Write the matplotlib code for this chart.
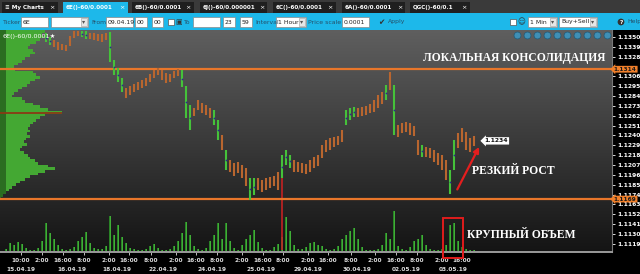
import numpy as np
import matplotlib.pyplot as plt
import matplotlib.transforms as mtransforms
from matplotlib.patches import Rectangle
from matplotlib.colors import LinearSegmentedColormap

W, H = 640, 274

# ---------------- данные: 6E (EUR), 1 Hour, бары по индексу
first_bar = 11
bar_high = [1.1354, 1.1350, 1.1347, 1.1344, 1.1342, 1.1341, 1.1351, 1.1357, 1.1357, 1.1357,
            1.1357, 1.1354, 1.1354, 1.1353, 1.1353, 1.1354, 1.1356, 1.1324, 1.1315, 1.1304,
            1.1293, 1.1295, 1.1298, 1.1300, 1.1302, 1.1304, 1.1309, 1.1313, 1.1315, 1.1313,
            1.1310, 1.1309, 1.1312, 1.1314, 1.1313, 1.1295, 1.1274, 1.1271, 1.1280, 1.1276,
            1.1274, 1.1271, 1.1268, 1.1257, 1.1241, 1.1224, 1.1213, 1.1209, 1.1210, 1.1207,
            1.1204, 1.1192, 1.1192, 1.1192, 1.1190, 1.1192, 1.1194, 1.1195, 1.1199, 1.1218,
            1.1224, 1.1218, 1.1213, 1.1210, 1.1209, 1.1208, 1.1213, 1.1216, 1.1218, 1.1229,
            1.1235, 1.1237, 1.1238, 1.1239, 1.1246, 1.1268, 1.1271, 1.1272, 1.1271, 1.1272,
            1.1273, 1.1275, 1.1280, 1.1285, 1.1289, 1.1296, 1.1311, 1.1296, 1.1252, 1.1254,
            1.1255, 1.1254, 1.1251, 1.1235, 1.1229, 1.1227, 1.1226, 1.1224, 1.1220, 1.1218,
            1.1213, 1.1201, 1.1235, 1.1243, 1.1248, 1.1244, 1.1237, 1.1239]
bar_low = [1.1344, 1.1341, 1.1339, 1.1335, 1.1335, 1.1334, 1.1340, 1.1349, 1.1351, 1.1350,
           1.1348, 1.1348, 1.1347, 1.1346, 1.1344, 1.1347, 1.1322, 1.1308, 1.1300, 1.1289,
           1.1282, 1.1285, 1.1289, 1.1291, 1.1293, 1.1295, 1.1300, 1.1304, 1.1308, 1.1302,
           1.1299, 1.1300, 1.1304, 1.1306, 1.1294, 1.1260, 1.1246, 1.1262, 1.1268, 1.1265,
           1.1263, 1.1260, 1.1252, 1.1235, 1.1224, 1.1201, 1.1199, 1.1195, 1.1198, 1.1192,
           1.1184, 1.1168, 1.1173, 1.1179, 1.1177, 1.1179, 1.1181, 1.1184, 1.1179, 1.1192,
           1.1207, 1.1204, 1.1199, 1.1199, 1.1198, 1.1197, 1.1199, 1.1204, 1.1206, 1.1215,
           1.1222, 1.1224, 1.1227, 1.1229, 1.1233, 1.1252, 1.1257, 1.1261, 1.1261, 1.1262,
           1.1263, 1.1265, 1.1266, 1.1271, 1.1275, 1.1280, 1.1291, 1.1241, 1.1238, 1.1243,
           1.1244, 1.1241, 1.1239, 1.1218, 1.1216, 1.1216, 1.1215, 1.1210, 1.1207, 1.1201,
           1.1190, 1.1175, 1.1201, 1.1226, 1.1233, 1.1224, 1.1222, 1.1228]
bar_volume = [0, 2, 8, 6, 9, 7, 3, 1, 1, 3,
              10, 28, 18, 12, 6, 2, 1, 2, 4, 10,
              14, 19, 8, 3, 2, 2, 5, 35, 16, 26,
              14, 8, 3, 2, 1, 1, 2, 5, 7, 3,
              1, 1, 2, 5, 10, 18, 29, 16, 5, 2,
              1, 3, 10, 16, 28, 12, 28, 10, 3, 1,
              6, 12, 16, 21, 9, 3, 1, 1, 4, 7,
              14, 34, 20, 6, 2, 2, 4, 8, 9, 6,
              5, 2, 1, 2, 5, 12, 16, 20, 23, 12,
              4, 1, 1, 1, 2, 6, 18, 12, 40, 5,
              2, 1, 4, 10, 12, 16, 6, 2, 1, 1,
              2, 6, 26, 28, 10, 4, 2, 1, 1]
spike_bar = 70
spike_low = 1.1112

# профиль объема по цене
vp_levels = [1.1356, 1.1353, 1.1350, 1.1347, 1.1344, 1.1341, 1.1338, 1.1335, 1.1332, 1.1329,
             1.1326, 1.1323, 1.1320, 1.1317, 1.1314, 1.1311, 1.1308, 1.1305, 1.1302, 1.1299,
             1.1296, 1.1293, 1.1290, 1.1287, 1.1284, 1.1281, 1.1278, 1.1275, 1.1272, 1.1269,
             1.1266, 1.1263, 1.1260, 1.1257, 1.1254, 1.1251, 1.1248, 1.1245, 1.1242, 1.1239,
             1.1236, 1.1233, 1.1230, 1.1227, 1.1224, 1.1221, 1.1218, 1.1215, 1.1212, 1.1209,
             1.1206, 1.1203, 1.1200, 1.1197, 1.1194, 1.1191, 1.1188, 1.1185, 1.1182, 1.1179,
             1.1176, 1.1173, 1.1170]
vp_volume = [45, 42, 44, 40, 36, 30, 28, 33, 35, 30,
             25, 22, 18, 14, 15, 33, 36, 40, 35, 30,
             27, 22, 18, 14, 12, 22, 25, 33, 40, 48,
             62, 45, 40, 36, 33, 30, 28, 30, 27, 30,
             26, 24, 27, 22, 20, 24, 28, 30, 35, 38,
             48, 55, 45, 38, 30, 25, 20, 16, 12, 9,
             6, 3, 1]
poc_price = 1.1265

level_hi = 1.1314
level_lo = 1.1169
last_price = 1.1234

price_ticks = [1.1350, 1.1339, 1.1328, 1.1317, 1.1306, 1.1295, 1.1284, 1.1273, 1.1262, 1.1251,
               1.1240, 1.1229, 1.1218, 1.1207, 1.1196, 1.1185, 1.1174, 1.1163, 1.1152, 1.1141,
               1.1130, 1.1119]
time_pos = [4.75, 10.0, 15.25, 20.5, 26.75, 31.75, 37.25, 43.5, 48.5, 53.75, 60.0,
            65.25, 70.25, 76.5, 81.5, 87.25, 93.25, 98.5, 103.75, 110.0, 115.0]
time_lab = ['10:00', '2:00', '16:00', '8:00', '2:00', '16:00', '8:00', '2:00', '16:00', '8:00',
            '2:00', '16:00', '8:00', '2:00', '16:00', '8:00', '2:00', '16:00', '8:00', '2:00',
            '16:00']
date_pos = [4.75, 17.5, 28.75, 40.25, 52.5, 64.75, 76.5, 88.75, 101.0, 112.75]
date_lab = ['15.04.19', '16.04.19', '18.04.19', '22.04.19', '24.04.19', '25.04.19',
            '29.04.19', '30.04.19', '02.05.19', '03.05.19']

tabs = [('My Charts', 2, 58), ('6E()-60/0.0001', 63, 128), ('6B()-60/0.0001', 132, 194),
        ('6J()-60/0.000001', 200, 267), ('6C()-60/0.0001', 273, 336),
        ('6A()-60/0.0001', 342, 405), ('QGC()-60/0.1', 410, 470)]

# ---------------- цвета
ORANGE = '#b9662f'
GREEN = '#45c23a'
LINE = '#e8762a'
CYAN = '#1db8ea'

y_lo, y_hi = 1.11099, 1.13578
x_lo, x_hi = -0.5, 152.5

fig = plt.figure(figsize=(W / 100, H / 100), dpi=100, facecolor='black')


def px_rect(x0, y0, x1, y1, **kw):
    fig.patches.append(Rectangle((x0 / W, 1 - y1 / H), (x1 - x0) / W, (y1 - y0) / H,
                                 transform=fig.transFigure, **kw))


def px_text(x, y, s, **kw):
    fig.text(x / W, 1 - y / H, s, **kw)


# ---------------- шапка
px_rect(0, 0, W, 13, fc='#3a3a3a', ec='none')
for name, x0, x1 in tabs:
    active = name.startswith('6E')
    px_rect(x0, 2, x1, 13, fc=CYAN if active else '#1f1f1f', ec='none')
    label = ('\u2261 ' if name == 'My Charts' else '') + name
    px_text(x0 + 3, 8, label, fontsize=4.1, color='white', fontweight='bold', va='center')
    px_text(x1 - 3, 8, '\u00d7', fontsize=4.6, color='white', ha='right', va='center')

px_rect(0, 13, W, 30, fc=CYAN, ec='none')


def box(x0, x1, s='', arrow=False):
    px_rect(x0, 17, x1, 27, fc='white', ec='#8a8a8a', lw=0.5)
    if s:
        px_text(x0 + 2, 22, s, fontsize=4.4, color='#222', va='center')
    if arrow:
        px_rect(x1 - 7, 18, x1 - 1, 26, fc='#e6e6e6', ec='#999', lw=0.4)
        px_text(x1 - 4, 22, '\u25be', fontsize=4.5, color='#555', ha='center', va='center')


for s, x in [('Ticker', 3), ('From', 91), ('To', 184), ('Interval', 255), ('Price scale', 308),
             ('Apply', 388), ('Help', 627)]:
    px_text(x, 22, s, fontsize=4.4, color='#25506a', va='center')
box(21, 48, '6E')
box(51, 88, arrow=True)
box(106, 133, '09.04.19')
box(135, 147, '00')
box(152, 163, '00')
px_rect(168, 19, 174, 25, fc='white', ec='#555', lw=0.5)
px_text(179, 22, '\u25a3', fontsize=5, color='#333', ha='center', va='center')
box(193, 220)
box(223, 235, '23')
box(240, 252, '59')
box(276, 306, '1 Hour', arrow=True)
box(342, 369, '0.0001')
px_text(381, 22, '\u2714', fontsize=5.5, color='#333', ha='center', va='center')
px_rect(510, 19, 516, 25, fc='white', ec='#555', lw=0.5)
px_text(521, 22, '\u263a', fontsize=5.5, color='#333', ha='center', va='center')
box(528, 557, '1 Min', arrow=True)
box(559, 597, 'Buy+Sell', arrow=True)
px_text(621, 22, '?', fontsize=4.2, color='white', fontweight='bold', ha='center', va='center',
        bbox=dict(boxstyle='circle,pad=0.15', fc='#333333', ec='none'))

# ---------------- панель графика
rect = [0, 22 / H, 612 / W, 222 / H]

ax_bg = fig.add_axes(rect)
bg_cmap = LinearSegmentedColormap.from_list('bg', ['#5f5f5f', '#3a3a3a', '#141414'])
ax_bg.imshow(np.linspace(0, 1, 256).reshape(-1, 1), cmap=bg_cmap, aspect='auto',
             extent=[0, 1, 0, 1])
ax_bg.axis('off')

# профиль объема слева
axp = fig.add_axes(rect)
axp.barh(vp_levels, vp_volume, height=0.0003, color='#44a833', edgecolor='none')
axp.barh(vp_levels, [min(v, 6) for v in vp_volume], height=0.0003, color='#2b6d21',
         edgecolor='none')
axp.hlines(poc_price, 0, max(vp_volume), color='#8a3a14', lw=1.3)
axp.set_xlim(0, max(vp_volume) * 612 / 62)
axp.set_ylim(y_lo, y_hi)
axp.axis('off')

# объем внизу
axv = fig.add_axes(rect)
vol_x = np.arange(len(bar_volume))
axv.bar(vol_x, bar_volume, width=0.7, color='#2a8226', edgecolor='none')
axv.bar(vol_x, bar_volume, width=0.25, color='#3fae36', edgecolor='none')
axv.set_xlim(x_lo, x_hi)
axv.set_ylim(-1, 222)
axv.axis('off')

# цена
ax = fig.add_axes(rect)
ax.set_facecolor('none')
bars = np.arange(first_bar, first_bar + len(bar_high))
colors = [GREEN if bar_volume[i] >= 14 else ORANGE for i in bars]
ax.vlines(bars, bar_low, bar_high, colors=colors, lw=1.5, zorder=3)
mid = np.array([(h + l) / 2 for h, l in zip(bar_high, bar_low)])
dark = [k for k, c in enumerate(colors) if c == GREEN]
ax.scatter(bars[dark], mid[dark], s=1.5, color='#2a2a90', zorder=4, lw=0)
ax.vlines(spike_bar, spike_low, bar_low[spike_bar - first_bar], color='#c42222', lw=1.2,
          zorder=2)

ax.axhline(level_hi, color=LINE, lw=1.6, zorder=2)
ax.axhline(level_lo, color=LINE, lw=1.6, zorder=2)

ax.set_xlim(x_lo, x_hi)
ax.set_ylim(y_lo, y_hi)

# оси; метку 1.1317 закрывает ярлык уровня
ax.yaxis.tick_right()
ax.set_yticks(price_ticks)
ax.set_yticklabels(['' if p == 1.1317 else f'{p:.4f}' for p in price_ticks])
ax.tick_params(axis='y', colors='white', labelsize=4.3, length=2, pad=2, width=0.6)
for t in ax.get_yticklabels():
    t.set_fontweight('bold')

ax.xaxis.remove_overlapping_locs = False
ax.set_xticks(time_pos)
ax.set_xticklabels(time_lab)
ax.set_xticks(date_pos, minor=True)
ax.set_xticklabels(date_lab, minor=True)
ax.tick_params(axis='x', which='major', colors='#dddddd', labelsize=4.2, length=2, pad=2,
               width=0.6)
ax.tick_params(axis='x', which='minor', colors='#dddddd', labelsize=4.2, length=0, pad=10.5)
for t in ax.get_xticklabels() + ax.get_xticklabels(minor=True):
    t.set_fontweight('bold')

for side in ['top', 'left']:
    ax.spines[side].set_visible(False)
ax.spines['bottom'].set_color('#9a9a9a')
ax.spines['bottom'].set_linewidth(1.4)
ax.spines['right'].set_color('#777777')
ax.spines['right'].set_linewidth(0.8)

# метки уровней на шкале
trans = mtransforms.blended_transform_factory(ax.transAxes, ax.transData)
for lv in (level_hi, level_lo):
    ax.text(1.003, lv, f'{lv:.4f}', transform=trans, fontsize=4.2, fontweight='bold',
            color='#1a1a1a', va='center', ha='left', clip_on=False, zorder=10,
            bbox=dict(boxstyle='larrow,pad=0.15', fc='#f07f2a', ec='none'))
ax.text(120.6, last_price, f'{last_price:.4f}', fontsize=4.3, fontweight='bold', color='#111',
        va='center', ha='left', zorder=10,
        bbox=dict(boxstyle='larrow,pad=0.2', fc='white', ec='none'))

ax.text(0.004, 0.985, '6E()-60/0.0001\u2605', transform=ax.transAxes, fontsize=4.6,
        color='white', va='top', ha='left', zorder=10)

# кнопки панели инструментов
icon_x = [(517 + 10 * k) / 612 for k in range(10)]
ax.plot(icon_x, [1 - 5 / 222] * 10, 'o', transform=ax.transAxes, ms=5, mfc='#3f8fb5',
        mec='#1f5a78', mew=0.5, clip_on=False, zorder=10)

# аннотации
serif = dict(family='Liberation Serif', fontweight='bold', color='white', fontsize=8.4,
             va='center', ha='left', zorder=10)
ax.text(105.25, 1.13265, 'ЛОКАЛЬНАЯ КОНСОЛИДАЦИЯ', **serif)
ax.text(117.5, 1.12003, 'РЕЗКИЙ РОСТ', **serif)
ax.text(116.25, 1.11289, 'КРУПНЫЙ ОБЪЕМ', **serif)

ax.annotate('', xy=(119.6, 1.1230), xytext=(113.5, 1.1177),
            arrowprops=dict(arrowstyle='-|>', color='#e41e1e', lw=1.6, mutation_scale=8),
            zorder=9)
ax.add_patch(Rectangle((110.25, 1.1103), 5.0, 0.00449, fill=False, ec='#e01c1c', lw=1.4,
                       clip_on=False, zorder=9))

fig.savefig('out.png', dpi=100, facecolor='black')
